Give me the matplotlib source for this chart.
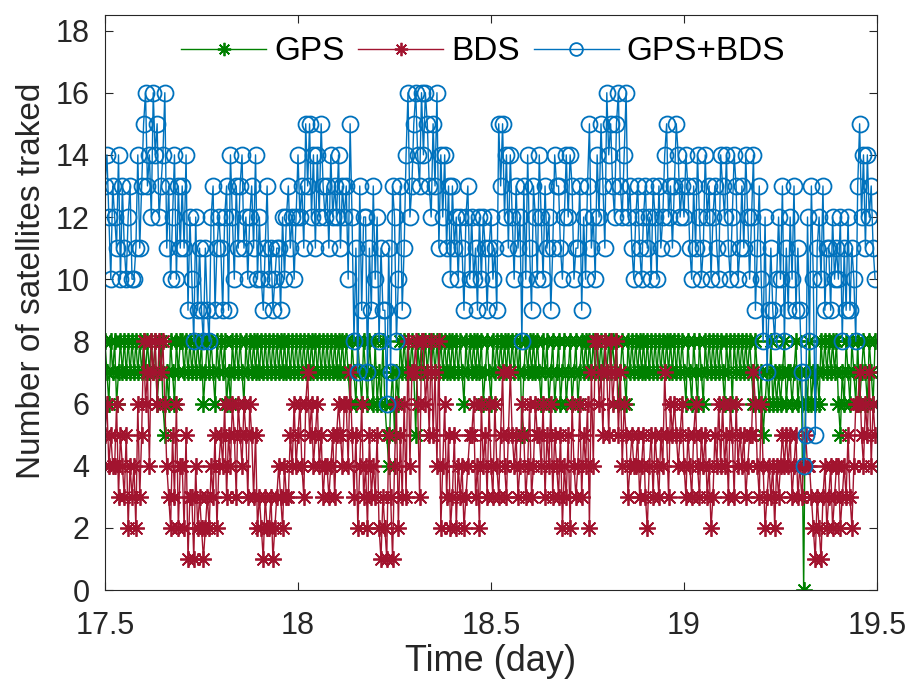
import numpy as np
import matplotlib
matplotlib.use('Agg')
import matplotlib.pyplot as plt

plt.rcParams['font.family'] = ['Liberation Sans', 'DejaVu Sans']

# Number of satellites tracked, one value every 0.005 day from day 17.5
t_start = 17.5
t_step = 0.005

gps = [8, 7, 6, 8, 7, 8, 6, 7, 8, 7, 8, 7, 8, 7, 8, 7, 8, 7, 8, 7,
       8, 7, 8, 7, 8, 7, 8, 6, 7, 8, 6, 5, 7, 6, 8, 7, 6, 8, 7, 8,
       8, 7, 8, 7, 8, 7, 8, 7, 8, 7, 8, 6, 7, 8, 7, 8, 7, 6, 8, 7,
       8, 7, 8, 6, 7, 6, 8, 7, 8, 7, 8, 7, 6, 8, 7, 8, 7, 8, 7, 8,
       7, 8, 7, 8, 7, 8, 7, 8, 7, 8, 7, 8, 7, 8, 7, 8, 7, 8, 7, 8,
       7, 8, 7, 8, 7, 8, 7, 8, 7, 8, 7, 8, 7, 8, 7, 8, 7, 8, 7, 8,
       7, 8, 7, 8, 7, 8, 7, 6, 8, 7, 6, 8, 7, 6, 8, 7, 6, 8, 7, 6,
       8, 6, 7, 6, 8, 6, 5, 4, 6, 7, 5, 7, 6, 8, 7, 8, 7, 8, 7, 8,
       7, 5, 8, 7, 8, 7, 8, 7, 8, 7, 8, 7, 8, 7, 8, 7, 8, 7, 8, 7,
       8, 7, 8, 7, 8, 7, 6, 8, 7, 8, 7, 8, 7, 8, 7, 8, 6, 7, 8, 7,
       6, 8, 7, 8, 7, 8, 7, 8, 7, 8, 7, 8, 7, 8, 7, 8, 5, 7, 8, 7,
       8, 7, 8, 7, 8, 7, 6, 8, 7, 8, 6, 7, 8, 6, 7, 8, 6, 7, 8, 6,
       7, 8, 6, 7, 8, 6, 7, 8, 7, 8, 7, 8, 7, 8, 7, 8, 7, 8, 7, 8,
       7, 8, 7, 8, 7, 8, 6, 7, 8, 7, 6, 8, 7, 8, 7, 8, 7, 8, 7, 8,
       7, 8, 7, 8, 7, 8, 7, 8, 7, 8, 7, 8, 7, 8, 7, 8, 7, 8, 7, 8,
       7, 6, 8, 7, 6, 8, 7, 6, 8, 7, 6, 8, 7, 8, 7, 8, 7, 8, 7, 8,
       7, 6, 8, 7, 8, 6, 8, 7, 8, 7, 8, 7, 8, 7, 8, 7, 6, 8, 7, 6,
       7, 5, 6, 7, 6, 8, 6, 7, 6, 7, 6, 7, 8, 6, 7, 7, 6, 7, 8, 6,
       7, 6, 0, 7, 6, 8, 6, 7, 6, 7, 6, 8, 7, 8, 7, 8, 7, 8, 7, 8,
       6, 5, 7, 6, 8, 7, 6, 8, 7, 6, 8, 6, 7, 8, 7, 6, 8, 7, 6, 8]

bds = [5, 6, 4, 5, 4, 4, 6, 3, 5, 4, 3, 5, 2, 4, 3, 4, 2, 6, 3, 5,
       8, 6, 7, 4, 8, 7, 8, 6, 8, 7, 8, 6, 4, 3, 2, 5, 3, 6, 2, 4,
       4, 2, 5, 1, 3, 3, 1, 4, 2, 3, 2, 1, 2, 3, 2, 4, 3, 5, 2, 4,
       5, 4, 6, 3, 5, 4, 6, 5, 3, 6, 5, 4, 6, 5, 3, 6, 5, 3, 5, 2,
       3, 2, 1, 3, 2, 2, 3, 1, 2, 3, 4, 3, 2, 4, 3, 3, 5, 4, 6, 4,
       5, 6, 4, 3, 6, 7, 5, 6, 4, 5, 6, 4, 5, 3, 4, 4, 3, 4, 5, 3,
       5, 6, 5, 4, 6, 6, 4, 7, 5, 3, 5, 2, 4, 6, 3, 4, 2, 5, 3, 4,
       3, 5, 2, 1, 3, 2, 1, 5, 3, 1, 4, 6, 2, 5, 3, 6, 3, 8, 4, 7,
       7, 8, 6, 3, 8, 8, 6, 7, 5, 8, 5, 7, 4, 8, 2, 4, 6, 3, 5, 2,
       3, 5, 2, 4, 3, 4, 2, 3, 4, 5, 5, 6, 3, 4, 2, 6, 4, 5, 3, 6,
       4, 3, 6, 4, 3, 5, 7, 4, 3, 5, 7, 5, 4, 5, 3, 4, 6, 5, 3, 4,
       6, 3, 4, 6, 5, 5, 4, 6, 3, 5, 4, 6, 3, 5, 4, 3, 5, 2, 4, 3,
       5, 2, 6, 4, 3, 4, 6, 3, 5, 4, 6, 2, 7, 4, 8, 8, 6, 7, 5, 8,
       7, 5, 8, 6, 7, 8, 5, 7, 4, 6, 5, 3, 4, 5, 4, 4, 5, 3, 4, 5,
       3, 2, 4, 5, 3, 5, 4, 3, 5, 4, 7, 5, 3, 6, 5, 6, 5, 4, 5, 6,
       4, 3, 5, 4, 3, 5, 6, 4, 3, 5, 4, 5, 3, 4, 2, 3, 5, 4, 6, 4,
       6, 4, 5, 3, 6, 5, 3, 6, 4, 5, 4, 5, 3, 4, 5, 5, 7, 6, 4, 3,
       6, 4, 2, 3, 4, 3, 4, 2, 4, 3, 4, 5, 4, 5, 4, 5, 3, 4, 5, 3,
       4, 3, 4, 5, 4, 4, 3, 2, 1, 3, 2, 1, 3, 4, 2, 3, 4, 2, 3, 4,
       4, 2, 3, 4, 3, 5, 3, 2, 4, 6, 6, 7, 5, 4, 6, 5, 7, 4, 6, 5]

gps_bds = [13, 14, 12, 10, 13, 12, 11, 14, 10, 13, 11, 10, 12, 13, 10, 10, 11, 14, 11, 13,
           15, 16, 13, 14, 12, 16, 14, 15, 12, 13, 14, 16, 11, 13, 10, 12, 14, 10, 13, 11,
           13, 11, 14, 9, 12, 10, 8, 12, 9, 11, 9, 8, 11, 9, 8, 12, 13, 9, 11, 12,
           11, 9, 12, 13, 9, 14, 12, 10, 13, 11, 13, 14, 11, 12, 10, 12, 13, 11, 14, 10,
           12, 10, 9, 11, 13, 10, 11, 9, 10, 11, 11, 9, 12, 10, 12, 13, 11, 12, 10, 12,
           14, 12, 13, 11, 15, 13, 15, 12, 14, 11, 14, 12, 15, 13, 12, 13, 11, 14, 12, 13,
           12, 14, 11, 13, 12, 13, 10, 15, 12, 8, 11, 7, 13, 9, 12, 12, 7, 11, 9, 13,
           10, 12, 8, 11, 9, 9, 6, 11, 7, 13, 12, 8, 10, 13, 9, 11, 14, 16, 12, 13,
           15, 16, 14, 13, 16, 14, 16, 15, 13, 12, 15, 13, 16, 11, 14, 12, 14, 11, 13, 10,
           13, 11, 12, 10, 12, 11, 9, 12, 13, 10, 12, 10, 11, 9, 12, 10, 12, 11, 9, 11,
           12, 10, 11, 9, 15, 13, 15, 12, 14, 11, 14, 12, 10, 13, 11, 12, 8, 13, 10, 14,
           11, 9, 13, 12, 10, 14, 12, 10, 13, 11, 12, 9, 11, 14, 13, 13, 11, 10, 12, 14,
           12, 14, 13, 10, 11, 11, 13, 9, 12, 10, 13, 15, 11, 12, 10, 14, 12, 15, 13, 11,
           16, 14, 15, 13, 12, 15, 16, 13, 12, 14, 16, 12, 13, 11, 10, 12, 13, 11, 10, 12,
           13, 11, 12, 10, 13, 12, 10, 13, 11, 12, 14, 15, 12, 13, 11, 13, 15, 14, 12, 13,
           12, 14, 13, 11, 10, 13, 11, 14, 12, 10, 11, 14, 12, 13, 10, 12, 13, 11, 10, 14,
           13, 12, 14, 11, 10, 12, 14, 13, 10, 11, 13, 11, 14, 12, 10, 12, 14, 9, 11, 13,
           10, 8, 12, 7, 9, 11, 9, 8, 10, 12, 10, 13, 8, 11, 9, 12, 10, 13, 9, 11,
           9, 7, 4, 5, 12, 8, 13, 10, 5, 11, 12, 10, 13, 9, 11, 11, 9, 12, 10, 11,
           10, 12, 8, 11, 9, 12, 9, 11, 10, 8, 13, 15, 12, 14, 11, 14, 12, 13, 11, 10]

time = t_start + t_step * np.arange(len(gps))

# MATLAB-like asterisk marker (+ and x together)
star = (8, 2, 0)

fig = plt.figure(figsize=(9.11, 6.8), dpi=100)
ax = fig.add_axes([105 / 911, 90 / 680, 772 / 911, 575 / 680])

ax.plot(time, gps, color='#008000', marker=star, markersize=12,
        markeredgewidth=1.3, linewidth=1.0, label='GPS')
ax.plot(time, bds, color='#A2142F', marker=star, markersize=12,
        markeredgewidth=1.3, linewidth=1.0, label='BDS')
ax.plot(time, gps_bds, color='#0072BD', marker='o', markersize=11.5,
        markerfacecolor='none', markeredgewidth=1.3, linewidth=1.0,
        label='GPS+BDS')

ax.set_xlim(17.5, 19.5)
ax.set_ylim(0, 18.5)
ax.set_xticks([17.5, 18, 18.5, 19, 19.5])
ax.set_xticklabels(['17.5', '18', '18.5', '19', '19.5'])
ax.set_yticks(np.arange(0, 19, 2))
ax.tick_params(direction='in', length=6, width=0.8, top=True, right=True,
               labelsize=22, colors='#262626')
ax.tick_params(axis='x', pad=15)
ax.tick_params(axis='y', pad=11)
for sp in ax.spines.values():
    sp.set_color('#262626')
    sp.set_linewidth(0.8)

ax.set_xlabel('Time (day)', fontsize=26, labelpad=2, color='#262626')
ax.set_ylabel('Number of satellites traked', fontsize=24, color='#262626')
ax.yaxis.set_label_coords(-0.075, 0.537)

leg = ax.legend(loc='center', bbox_to_anchor=(0.49, 0.936), ncol=3,
                frameon=False, fontsize=24, handlelength=2.55,
                handletextpad=0.25, columnspacing=0.4, borderaxespad=0,
                markerscale=0.8)

fig.savefig('out.png', dpi=100)
